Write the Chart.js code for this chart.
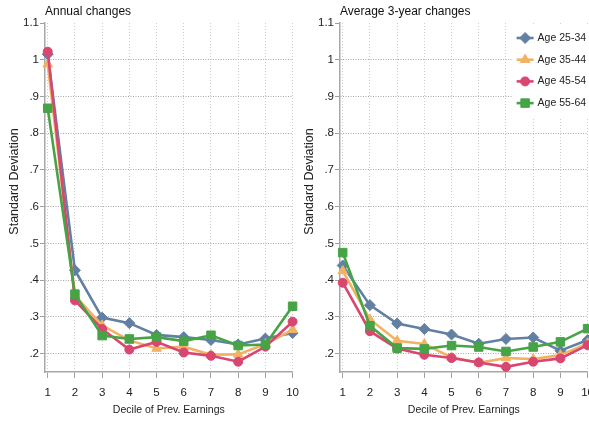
<!DOCTYPE html>
<html>
<head>
<meta charset="utf-8">
<script src="https://cdn.jsdelivr.net/npm/chart.js@4.4.1/dist/chart.umd.min.js"></script>
<style>
	html, body { margin: 0; padding: 0; background: #fff; overflow: hidden; width: 589px; height: 423px; }
	.panel { position: absolute; top: 0; width: 307px; height: 423px; }
	#left { left: 0; }
	#right { left: 295px; }
</style>
</head>
<body>
<div class="panel" id="left"><canvas id="annual" width="307" height="423"></canvas></div>
<div class="panel" id="right"><canvas id="avg3" width="307" height="423"></canvas></div>
<script>
const deciles = [1, 2, 3, 4, 5, 6, 7, 8, 9, 10]
const ageGroups = ['Age 25-34', 'Age 35-44', 'Age 45-54', 'Age 55-64']
const yTicks = [0.2, 0.3, 0.4, 0.5, 0.6, 0.7, 0.8, 0.9, 1.0, 1.1]
const yTickLabels = ['.2', '.3', '.4', '.5', '.6', '.7', '.8', '.9', '1', '1.1']

//annual changes, one array per age group
const annual2534 = [1.015, 0.427, 0.298, 0.283, 0.251, 0.245, 0.237, 0.225, 0.241, 0.256]
const annual3544 = [0.988, 0.358, 0.277, 0.236, 0.214, 0.219, 0.197, 0.198, 0.226, 0.265]
const annual4554 = [1.022, 0.345, 0.267, 0.211, 0.232, 0.203, 0.194, 0.178, 0.219, 0.287]
const annual5564 = [0.868, 0.362, 0.249, 0.240, 0.245, 0.234, 0.250, 0.222, 0.225, 0.329]

//average 3-year changes
const avg2534 = [0.440, 0.332, 0.282, 0.267, 0.252, 0.227, 0.240, 0.244, 0.208, 0.237]
const avg3544 = [0.425, 0.293, 0.235, 0.226, 0.190, 0.175, 0.188, 0.185, 0.196, 0.228]
const avg4554 = [0.393, 0.261, 0.214, 0.197, 0.188, 0.176, 0.164, 0.178, 0.187, 0.223]
const avg5564 = [0.475, 0.276, 0.215, 0.213, 0.222, 0.218, 0.206, 0.218, 0.232, 0.268]

const colors = ['rgb(98,128,163)', 'rgb(243,177,99)', 'rgb(217,70,112)', 'rgb(70,163,70)']
const markers = ['rectRot', 'triangle', 'circle', 'rect']
const markerSize = [5.5, 5.5, 4.5, 6]

const font = "'Liberation Sans', Arial, sans-serif"
Chart.defaults.font.family = font
Chart.defaults.color = '#222'

//build the datasets for one panel
const buildDatasets = series => series.map((values, i) => ({
	label: ageGroups[i],
	data: deciles.map((d, k) => ({ x: d, y: values[k] })),
	borderColor: colors[i],
	backgroundColor: colors[i],
	borderWidth: 2.6,
	pointStyle: markers[i],
	pointRadius: markerSize[i],
	pointBorderWidth: 1,
	tension: 0,
	clip: false,
	order: 3 - i,
}))

//y title and legend drawn by hand so they sit where stata puts them
const panelText = {
	id: 'panelText',
	afterDraw(chart, args, opts) {
		const { ctx, chartArea } = chart
		ctx.save()

		//y axis title, a bit above the middle of the plot
		ctx.translate(15, (chartArea.top + chartArea.bottom) / 2 - 16)
		ctx.rotate(-Math.PI / 2)
		ctx.fillStyle = '#222'
		ctx.font = `12.5px ${font}`
		ctx.textAlign = 'center'
		ctx.textBaseline = 'middle'
		ctx.fillText(opts.yTitle, 0, 0)
		ctx.restore()

		if (!opts.legend) return
		const right = chartArea.right
		ctx.save()
		ctx.fillStyle = '#fff'
		ctx.fillRect(right - 75, chartArea.top + 3, 90, 92)
		chart.data.datasets.forEach((ds, i) => {
			const y = chartArea.top + 15 + i * 21.7
			ctx.strokeStyle = ds.borderColor
			ctx.fillStyle = ds.backgroundColor
			ctx.lineWidth = 2.6
			ctx.beginPath()
			ctx.moveTo(right - 71, y)
			ctx.lineTo(right - 54, y)
			ctx.stroke()
			ctx.lineWidth = 1
			Chart.helpers.drawPoint(ctx, { pointStyle: ds.pointStyle, radius: ds.pointRadius, rotation: 0, borderWidth: 1 }, right - 62.5, y)
			ctx.fillStyle = '#222'
			ctx.font = `10.5px ${font}`
			ctx.textBaseline = 'middle'
			ctx.textAlign = 'left'
			ctx.fillText(ds.label, right - 50, y)
		})
		ctx.restore()
	},
}

const makeChart = (id, title, series, showLegend) => {
	const ctx = document.querySelector(id).getContext('2d')
	return new Chart(ctx, {
		type: 'line',
		data: { datasets: buildDatasets(series) },
		plugins: [panelText],
		options: {
			responsive: false,
			animation: false,
			layout: { padding: { left: 0, right: 8, top: 0, bottom: 0 } },
			plugins: {
				legend: { display: false },
				tooltip: { enabled: false },
				panelText: { legend: showLegend, yTitle: 'Standard Deviation' },
				title: {
					display: true,
					text: title,
					align: 'start',
					fullSize: false,
					color: '#111',
					font: { size: 12, weight: 'normal' },
					padding: { top: 4, bottom: 4.6 },
				},
			},
			scales: {
				x: {
					type: 'linear',
					min: 0.9,
					max: 10,
					afterBuildTicks: s => { s.ticks = deciles.map(v => ({ value: v })) },
					afterFit: s => { s.height = 51 },
					ticks: {
						callback: (v, i) => String(deciles[i]),
						font: { size: 11.5 },
						padding: 8,
						maxRotation: 0,
					},
					grid: {
						color: '#cdcdcd',
						lineWidth: 1,
						tickLength: 6,
						tickColor: '#a0a0a0',
						tickBorderDash: [],
					},
					border: { display: true, color: '#a8a8a8', width: 1.5, dash: [1, 2] },
					title: {
						display: true,
						text: 'Decile of Prev. Earnings',
						font: { size: 10.5 },
						padding: { top: 0, bottom: 7 },
					},
				},
				y: {
					type: 'linear',
					min: 0.15,
					max: 1.1,
					afterBuildTicks: s => { s.ticks = yTicks.map(v => ({ value: v })) },
					afterFit: s => { s.width = 45 },
					ticks: {
						callback: (v, i) => yTickLabels[i],
						font: { size: 11.5 },
						padding: 1,
					},
					grid: {
						color: c => (c.tick && c.tick.value > 1.05 ? 'rgba(0,0,0,0)' : '#a6a6a6'),
						lineWidth: 1,
						tickLength: 5,
						tickColor: '#a0a0a0',
						tickBorderDash: [],
					},
					border: { display: true, color: '#a8a8a8', width: 1.5, dash: [1, 1.5] },
				},
			},
		},
	})
}

makeChart('#annual', 'Annual changes', [annual2534, annual3544, annual4554, annual5564], false)
makeChart('#avg3', 'Average 3-year changes', [avg2534, avg3544, avg4554, avg5564], true)
</script>
</body>
</html>
